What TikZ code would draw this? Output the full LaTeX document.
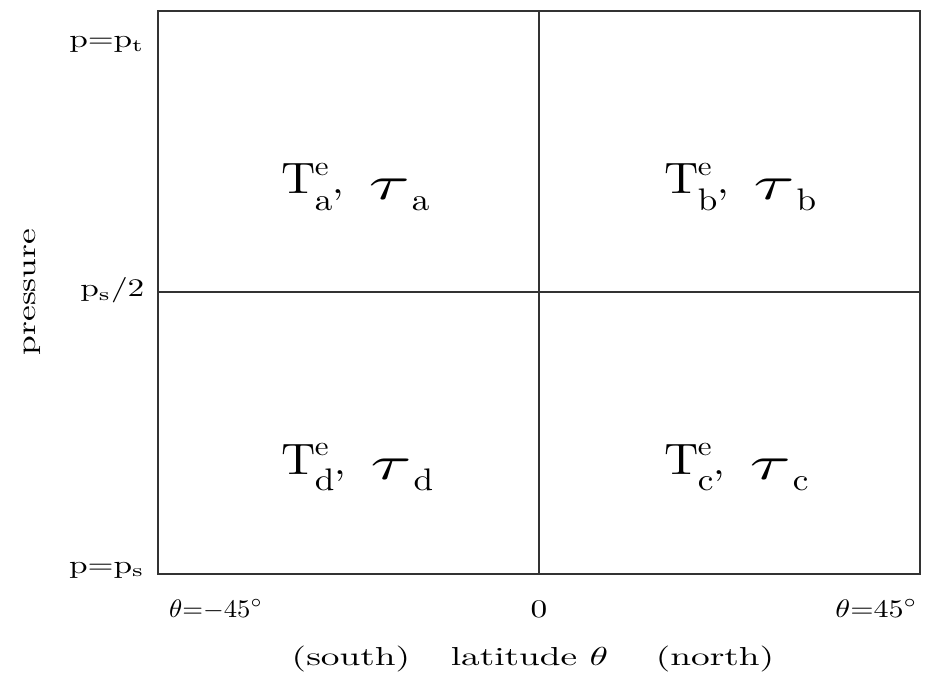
\documentclass[tikz,border=0pt]{standalone}
\usepackage{amsmath}
\usepackage{graphicx}
\usetikzlibrary{positioning}

% T^e with its subscript, then tau with the same subscript
\newcommand{\tcell}[1]{%
  \scalebox{1.15}[1.2]{T}\kern-0.3pt
  \rlap{\raisebox{5pt}{\scalebox{0.75}{e}}}%
  \raisebox{-4.6pt}{\scalebox{0.85}{#1}},\hspace{6pt}%
  \raisebox{-1.4pt}{\scalebox{1.8}[1.3]{$\tau$}}\kern0.5pt
  \raisebox{-4.6pt}{\scalebox{0.85}{#1}}}

\begin{document}
\begin{tikzpicture}[
    x=0.75pt, y=-0.75pt,
    frame/.style={draw=black!80, line width=0.8pt},
    axislabel/.style={transform shape, xscale=2.5, yscale=1.9, inner sep=0pt},
    widelabel/.style={transform shape, xscale=2.8, yscale=1.95, inner sep=0pt},
    cell/.style={transform shape, xscale=3.1, yscale=2.75, inner sep=0pt, anchor=base west},
  ]
  \useasboundingbox (0,0) rectangle (925,677);

  % corners and midpoints of the box
  \coordinate (nw) at (158,11);
  \coordinate (se) at (920,574);
  \coordinate (topmid) at (539,11);
  \coordinate (botmid) at (539,574);
  \coordinate (leftmid) at (158,292);
  \coordinate (rightmid) at (920,292);

  \draw[frame] (nw) rectangle (se);
  \draw[frame] (topmid) -- (botmid);
  \draw[frame] (leftmid) -- (rightmid);

  % the four boxes
  \node[cell] (ca) at (281,194) {\tcell{a}};
  \node[cell] (cb) at (664,194) {\tcell{b}};
  \node[cell] (cd) at (281,474) {\tcell{d}};
  \node[cell] (cc) at (664,474) {\tcell{c}};

  % pressure axis
  \node[axislabel, anchor=base east] (ptop) at (145,48) {$\mathrm{p}{=}\mathrm{p_t}$};
  \node[axislabel, anchor=base east] (phalf) at (145,297) {$\mathrm{p_s}/2$};
  \node[axislabel, anchor=base east] (pbot) at (145,573) {$\mathrm{p}{=}\mathrm{p_s}$};
  \node[rotate=90, widelabel, xscale=0.95, anchor=base] (pres) at (35,292) {pressure};

  % latitude axis
  \node[axislabel, xscale=0.8, anchor=base] (south) at (216,617) {$\theta{=}{-}45^\circ$};
  \node[axislabel, anchor=base] (zero) at (539,617) {$0$};
  \node[axislabel, xscale=0.9, anchor=base east] (north) at (918,617) {$\theta{=}45^\circ$};
  \node[widelabel, anchor=base west] (sth) at (291,665) {(south)};
  \node[widelabel, anchor=base west] (lat) at (450,665) {latitude $\theta$};
  \node[widelabel, anchor=base east] (nth) at (775,665) {(north)};

\end{tikzpicture}
\end{document}
